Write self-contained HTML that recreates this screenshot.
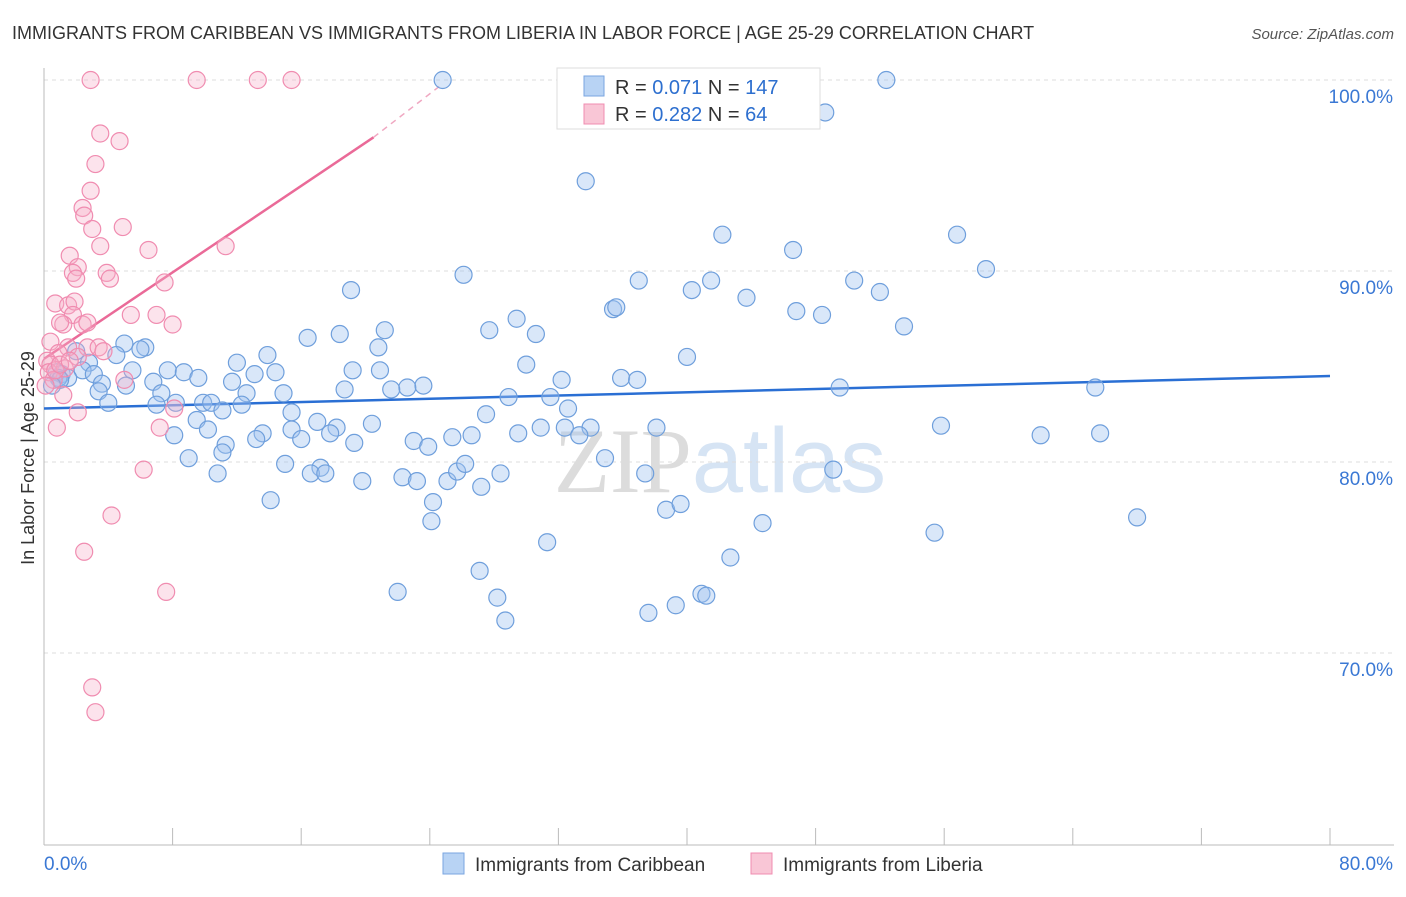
<!DOCTYPE html>
<html><head><meta charset="utf-8"><style>
body{margin:0;background:#fff;font-family:"Liberation Sans",sans-serif}
</style></head><body>
<svg width="1406" height="892" xmlns="http://www.w3.org/2000/svg" font-family="Liberation Sans, sans-serif">
<text x="12" y="39" font-size="18" fill="#333">IMMIGRANTS FROM CARIBBEAN VS IMMIGRANTS FROM LIBERIA IN LABOR FORCE | AGE 25-29 CORRELATION CHART</text>
<text x="1394" y="39" font-size="15" fill="#555" text-anchor="end" font-style="italic">Source: ZipAtlas.com</text>
<text x="720" y="492" font-size="92" text-anchor="middle" fill="#e6e6e6"><tspan font-family="Liberation Serif, serif" fill="#dcdcdc">ZIP</tspan><tspan fill="#d6e4f4">atlas</tspan></text>
<g id="grid"></g>
<g id="axes"></g>
<g id="trends"></g>
<g id="points"></g>
<text transform="translate(34,458) rotate(-90)" font-size="18" fill="#333" text-anchor="middle">In Labor Force | Age 25-29</text>
<g>
<rect x="557" y="68" width="263" height="61" fill="#fff" stroke="#ddd"/>
<rect x="584" y="76" width="20" height="20" fill="#b8d3f4" stroke="#7aa6e0"/>
<rect x="584" y="104" width="20" height="20" fill="#f9c6d6" stroke="#f08cb0"/>
<text x="615" y="94" font-size="20" fill="#333">R = <tspan fill="#2d6fcf">0.071</tspan>   N = <tspan fill="#2d6fcf">147</tspan></text>
<text x="615" y="121" font-size="20" fill="#333">R = <tspan fill="#2d6fcf">0.282</tspan>   N =  <tspan fill="#2d6fcf"> 64</tspan></text>
</g>
<g>
<rect x="443" y="853" width="21" height="21" fill="#b8d3f4" stroke="#7aa6e0"/>
<text x="475" y="871" font-size="19" fill="#333">Immigrants from Caribbean</text>
<rect x="751" y="853" width="21" height="21" fill="#f9c6d6" stroke="#f08cb0"/>
<text x="783" y="871" font-size="19" fill="#333">Immigrants from Liberia</text>
</g>
</svg>
<script>
const yTicks=[100,90,80,70];
const yTickLabels=["100.0%","90.0%","80.0%","70.0%"];
const xTickLabels=["0.0%","80.0%"];
const blueX=[24.8,52.4,48.6,33.7,42.2,56.8,46.6,58.6,26.1,37.0,41.5,50.4,40.3,19.1,52.0,43.7,35.4,35.6,46.8,48.4,29.4,53.5,27.7,21.2,18.4,16.4,30.6,20.8,40.0,30.0,13.9,12.0,6.3,5.0,4.5,6.0,2.0,2.8,2.4,0.8,1.1,1.5,3.1,5.5,3.6,6.8,7.7,8.7,9.6,11.7,13.1,14.4,19.2,20.9,23.6,22.6,21.6,18.7,32.2,35.9,36.9,49.5,65.4,28.9,31.5,5.1,7.3,12.6,14.9,3.4,4.0,7.0,8.2,9.9,10.4,12.3,15.4,27.5,32.6,11.1,9.5,10.2,15.4,17.0,18.2,20.4,17.8,16.0,13.6,13.2,11.3,8.1,19.3,23.0,23.9,25.4,26.6,29.5,30.9,32.4,34.0,33.3,38.1,55.8,62.0,65.7,9.0,11.1,15.0,17.2,16.6,17.5,10.8,19.8,22.3,23.2,25.1,25.7,26.2,27.2,28.4,34.9,37.4,49.1,14.1,24.2,24.1,38.7,39.6,44.7,55.4,68.0,31.3,42.7,27.1,22.0,28.2,40.9,41.2,28.7,37.6,39.3,0.9,1.0,0.5];
const blueY=[100,100,98.3,94.7,91.9,91.9,91.1,90.1,89.8,89.5,89.5,89.5,89.0,89.0,88.9,88.6,88.0,88.1,87.9,87.7,87.5,87.1,86.9,86.9,86.7,86.5,86.7,86.0,85.5,85.1,85.6,85.2,86.0,86.2,85.6,85.9,85.8,85.2,84.8,84.7,84.6,84.4,84.6,84.8,84.1,84.2,84.8,84.7,84.4,84.2,84.6,84.7,84.8,84.8,84.0,83.9,83.8,83.8,84.3,84.4,84.3,83.9,83.9,83.4,83.4,84.0,83.6,83.6,83.6,83.7,83.1,83.0,83.1,83.1,83.1,83.0,82.6,82.5,82.8,82.7,82.2,81.7,81.7,82.1,81.8,82.0,81.5,81.2,81.5,81.2,80.9,81.4,81.0,81.1,80.8,81.3,81.4,81.5,81.8,81.8,81.8,81.4,81.8,81.9,81.4,81.5,80.2,80.5,79.9,79.7,79.4,79.4,79.4,79.0,79.2,79.0,79.0,79.5,79.9,78.7,79.4,80.2,79.4,79.6,78.0,77.9,76.9,77.5,77.8,76.8,76.3,77.1,75.8,75.0,74.3,73.2,72.9,73.1,73.0,71.7,72.1,72.5,84.4,84.3,84.0];
const pinkX=[2.9,9.5,13.3,15.4,3.5,4.7,3.2,2.9,2.4,2.5,3.0,4.9,3.5,6.5,11.3,1.6,2.1,1.8,2.0,3.9,4.1,7.5,0.7,1.5,1.9,1.8,2.4,1.2,1.0,7.0,5.4,8.0,2.7,0.4,1.5,2.7,3.4,3.7,0.9,2.1,0.2,0.4,1.3,0.3,0.6,5.0,1.2,8.1,2.1,7.2,0.8,6.2,4.2,2.5,7.6,3.0,3.2,0.7,1.0,1.6,0.1];
const pinkY=[100,100,100,100,97.2,96.8,95.6,94.2,93.3,92.9,92.2,92.3,91.3,91.1,91.3,90.8,90.2,89.9,89.6,89.9,89.6,89.4,88.3,88.2,88.4,87.7,87.2,87.2,87.3,87.7,87.7,87.2,87.3,86.3,86.0,86.0,86.0,85.8,85.7,85.5,85.3,85.1,84.9,84.7,84.3,84.3,83.5,82.8,82.6,81.8,81.8,79.6,77.2,75.3,73.2,68.2,66.9,84.8,85.1,85.3,84.0];
const blueTrendX=[0,80], blueTrendY=[82.8,84.5];
const pinkTrendX=[0,20.5], pinkTrendY=[85.4,97.0];
const pinkDashX=[20.5,24.8], pinkDashY=[97.0,99.8];

const NS="http://www.w3.org/2000/svg";
const X0=44,X1=1330;
function sx(v){return X0+(v/80)*(X1-X0);}
function sy(v){return 80+(100-v)*19.1;}
function mk(tag,attrs,parent){const e=document.createElementNS(NS,tag);for(const k in attrs)e.setAttribute(k,attrs[k]);document.getElementById(parent).appendChild(e);return e;}

yTicks.forEach((t,i)=>{
 const g=mk('line',{x1:X0,x2:1394,y1:sy(t),y2:sy(t),stroke:'#ddd','stroke-dasharray':'4,4'},'grid');
 
 
 const l=mk('text',{x:1393,y:sy(t)+23,'font-size':19,fill:'#3a78d4','text-anchor':'end'},'axes');
 l.textContent=yTickLabels[i];
 
 
});
const ya=mk('line',{x1:X0,x2:X0,y1:68,y2:845,stroke:'#bbb'},'axes');


const xa=mk('line',{x1:X0,x2:1394,y1:845,y2:845,stroke:'#bbb'},'axes');


for(let i=0;i<=10;i++){
 const t=mk('line',{x1:sx(i*8),x2:sx(i*8),y1:828,y2:845,stroke:'#bbb'},'axes');
 
 
}
[0,80].forEach((v,i)=>{
 const l=mk('text',{x:i?1393:44,y:870,'font-size':19,fill:'#3a78d4','text-anchor':i?'end':'start'},'axes');
 l.textContent=xTickLabels[i];
 
 
});

const bl=mk('line',{x1:sx(blueTrendX[0]),y1:sy(blueTrendY[0]),x2:sx(blueTrendX[1]),y2:sy(blueTrendY[1]),stroke:'#2a6fd4','stroke-width':2.5},'trends');


const pl=mk('line',{x1:sx(pinkTrendX[0]),y1:sy(pinkTrendY[0]),x2:sx(pinkTrendX[1]),y2:sy(pinkTrendY[1]),stroke:'#ea6a98','stroke-width':2.5},'trends');


const pd=mk('line',{x1:sx(pinkDashX[0]),y1:sy(pinkDashY[0]),x2:sx(pinkDashX[1]),y2:sy(pinkDashY[1]),stroke:'#f0a8c2','stroke-width':1.5,'stroke-dasharray':'6,5'},'trends');



blueX.forEach((x,i)=>{
 const c=mk('circle',{cx:sx(x),cy:sy(blueY[i]),r:8.5,fill:'rgba(160,196,240,0.4)',stroke:'#6f9fdc','stroke-width':1.2},'points');
 
 
});
pinkX.forEach((x,i)=>{
 const c=mk('circle',{cx:sx(x),cy:sy(pinkY[i]),r:8.5,fill:'rgba(245,175,200,0.35)',stroke:'#f08cb0','stroke-width':1.2},'points');
 
 
});
</script>
</body></html>
